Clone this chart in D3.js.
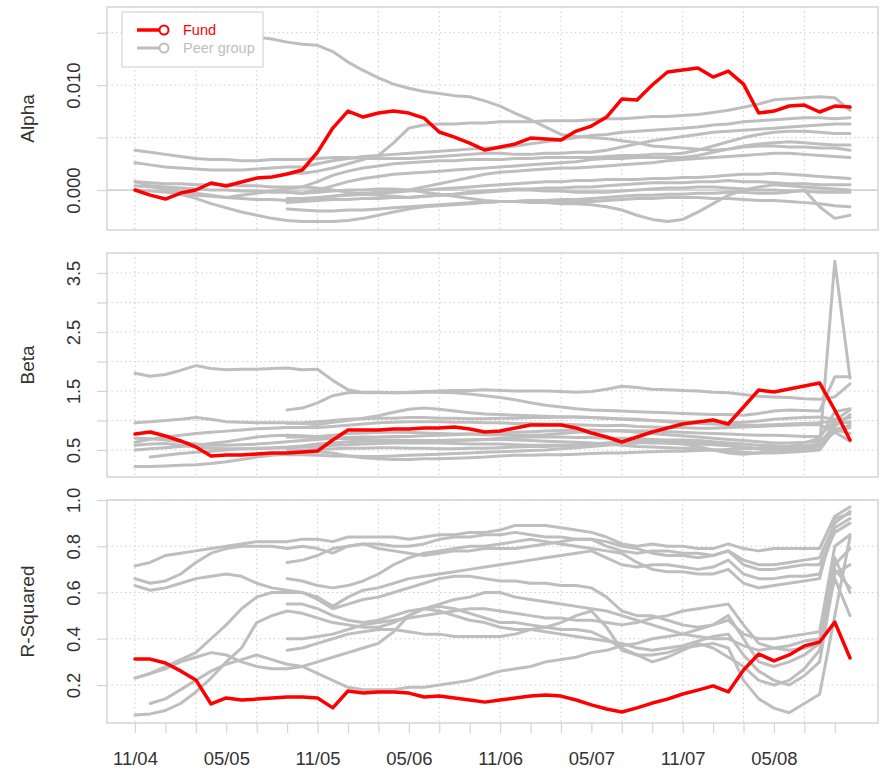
<!DOCTYPE html>
<html>
<head>
<meta charset="utf-8">
<script src="https://cdn.jsdelivr.net/npm/d3@7"></script>
<style>
  body { margin: 0; background: #fff; }
  svg text { font-family: "Liberation Sans", Arial, Helvetica, sans-serif; }
</style>
</head>
<body>
<svg id="chart" width="886" height="771"></svg>
<script>
// Monthly observation dates, Nov 2004 .. Oct 2008
const months = d3.timeMonth.range(new Date(2004, 10, 1), new Date(2008, 10, 1));
const tickLabels = ["11/04", "05/05", "11/05", "05/06", "11/06", "05/07", "11/07", "05/08"];

// Peers that only have history from 09/05 onwards
const lateStart = vals => Array(months.length - vals.length).fill(null).concat(vals);

// ---------------- Rolling alpha ----------------
const fundAlpha = [0,-0.48e-3,-0.86e-3,-0.29e-3,0,0.67e-3,0.38e-3,0.76e-3,1.14e-3,1.24e-3,1.53e-3,1.91e-3,3.62e-3,5.91e-3,7.53e-3,6.96e-3,7.34e-3,7.53e-3,7.34e-3,6.86e-3,5.53e-3,5.05e-3,4.48e-3,3.81e-3,4.10e-3,4.39e-3,4.96e-3,4.86e-3,4.77e-3,5.62e-3,6.10e-3,6.96e-3,8.67e-3,8.58e-3,10.01e-3,11.25e-3,11.44e-3,11.63e-3,10.77e-3,11.34e-3,10.10e-3,7.34e-3,7.53e-3,8.01e-3,8.10e-3,7.44e-3,8.01e-3,7.91e-3];

const peerAlpha = [
  [15.3e-3,15.2e-3,15.1e-3,15.0e-3,15.0e-3,14.9e-3,14.8e-3,14.7e-3,14.6e-3,14.4e-3,14.1e-3,13.9e-3,13.8e-3,13.2e-3,12.2e-3,11.4e-3,10.7e-3,10.1e-3,9.7e-3,9.4e-3,9.2e-3,9.0e-3,8.9e-3,8.5e-3,8.0e-3,7.3e-3,6.7e-3,6.0e-3,5.3e-3,5.1e-3,5.0e-3,4.9e-3,4.7e-3,4.5e-3,4.2e-3,4.1e-3,4.0e-3,3.9e-3,3.8e-3,3.9e-3,4.1e-3,4.2e-3,4.2e-3,4.1e-3,4.1e-3,4.0e-3,4.0e-3,3.8e-3],
  [2.6e-3,2.4e-3,2.2e-3,2.1e-3,2.0e-3,1.9e-3,1.9e-3,1.9e-3,2.0e-3,2.1e-3,2.2e-3,2.2e-3,2.5e-3,2.8e-3,3.0e-3,3.2e-3,3.3e-3,3.4e-3,3.5e-3,3.6e-3,3.7e-3,3.8e-3,3.9e-3,4.0e-3,4.0e-3,4.2e-3,4.4e-3,4.6e-3,4.8e-3,5.0e-3,5.2e-3,5.3e-3,5.5e-3,5.6e-3,5.7e-3,5.8e-3,5.9e-3,6.0e-3,6.2e-3,6.3e-3,6.5e-3,6.6e-3,6.7e-3,6.8e-3,6.9e-3,6.9e-3,6.8e-3,6.9e-3],
  [3.8e-3,3.6e-3,3.4e-3,3.2e-3,3.0e-3,2.9e-3,2.9e-3,2.8e-3,2.8e-3,2.9e-3,2.9e-3,2.9e-3,3.0e-3,3.1e-3,3.1e-3,3.0e-3,3.0e-3,3.0e-3,3.0e-3,3.1e-3,3.2e-3,3.3e-3,3.4e-3,3.5e-3,3.5e-3,3.4e-3,3.4e-3,3.5e-3,3.5e-3,3.6e-3,3.6e-3,3.8e-3,4.1e-3,4.4e-3,4.7e-3,4.9e-3,5.1e-3,5.3e-3,5.5e-3,5.6e-3,5.7e-3,5.8e-3,5.9e-3,6.0e-3,6.1e-3,6.2e-3,6.3e-3,6.3e-3],
  [0.8e-3,0.7e-3,0.6e-3,0.6e-3,0.5e-3,0.5e-3,0.5e-3,0.4e-3,0.4e-3,0.3e-3,0.3e-3,0.3e-3,0.8e-3,1.4e-3,1.8e-3,2.1e-3,2.3e-3,2.5e-3,2.6e-3,2.7e-3,2.8e-3,2.8e-3,2.9e-3,2.9e-3,2.9e-3,3.0e-3,3.0e-3,3.1e-3,3.1e-3,3.1e-3,3.1e-3,3.2e-3,3.3e-3,3.3e-3,3.4e-3,3.4e-3,3.5e-3,3.8e-3,4.2e-3,4.6e-3,5.0e-3,5.3e-3,5.5e-3,5.6e-3,5.6e-3,5.5e-3,5.4e-3,5.4e-3],
  [0,-0.1e-3,-0.2e-3,-0.4e-3,-0.5e-3,-0.6e-3,-0.7e-3,-0.8e-3,-0.9e-3,-0.9e-3,-1.0e-3,-1.0e-3,-0.8e-3,-0.6e-3,-0.4e-3,-0.3e-3,-0.2e-3,-0.1e-3,0,0.3e-3,0.6e-3,0.9e-3,1.2e-3,1.5e-3,1.7e-3,1.8e-3,1.9e-3,2.0e-3,2.1e-3,2.1e-3,2.2e-3,2.3e-3,2.4e-3,2.5e-3,2.6e-3,2.8e-3,2.9e-3,3.0e-3,3.1e-3,3.2e-3,3.3e-3,3.4e-3,3.5e-3,3.5e-3,3.4e-3,3.3e-3,3.2e-3,3.1e-3],
  [0.4e-3,0.3e-3,0.1e-3,-0.1e-3,-0.3e-3,-0.5e-3,-0.7e-3,-0.5e-3,-0.3e-3,-0.1e-3,0.1e-3,0.3e-3,0.2e-3,0,-0.2e-3,-0.4e-3,-0.5e-3,-0.6e-3,-0.7e-3,-0.6e-3,-0.5e-3,-0.4e-3,-0.2e-3,-0.1e-3,0,0.1e-3,0.1e-3,0.2e-3,0.2e-3,0.3e-3,0.3e-3,0.4e-3,0.5e-3,0.6e-3,0.7e-3,0.7e-3,0.7e-3,0.8e-3,0.8e-3,0.9e-3,0.8e-3,0.8e-3,0.7e-3,0.6e-3,0.6e-3,0.5e-3,0.5e-3,0.5e-3],
  [0.8e-3,0.4e-3,0,-0.4e-3,-0.8e-3,-1.3e-3,-1.7e-3,-2.1e-3,-2.4e-3,-2.7e-3,-2.9e-3,-3.0e-3,-3.0e-3,-3.0e-3,-2.9e-3,-2.7e-3,-2.4e-3,-2.1e-3,-1.8e-3,-1.6e-3,-1.5e-3,-1.4e-3,-1.3e-3,-1.2e-3,-1.1e-3,-1.1e-3,-1.0e-3,-1.0e-3,-1.1e-3,-1.1e-3,-1.1e-3,-1.0e-3,-0.9e-3,-0.8e-3,-0.8e-3,-0.7e-3,-0.7e-3,-0.7e-3,-0.8e-3,-0.8e-3,-0.9e-3,-1.0e-3,-1.0e-3,-1.1e-3,-1.2e-3,-1.3e-3,-1.5e-3,-1.6e-3],
  [null,0.4e-3,0.3e-3,0.2e-3,0.1e-3,0,0,-0.1e-3,-0.1e-3,-0.2e-3,-0.2e-3,-0.3e-3,-0.2e-3,-0.1e-3,0,0,0.1e-3,0.1e-3,0,-0.2e-3,-0.4e-3,-0.6e-3,-0.8e-3,-1.0e-3,-1.1e-3,-1.1e-3,-1.0e-3,-1.0e-3,-0.9e-3,-0.9e-3,-0.8e-3,-0.7e-3,-0.6e-3,-0.5e-3,-0.5e-3,-0.4e-3,-0.4e-3,-0.3e-3,-0.3e-3,-0.2e-3,-0.2e-3,-0.3e-3,-0.3e-3,-0.2e-3,0,-1.6e-3,-2.7e-3,-2.4e-3],
  lateStart([1.6e-3,1.6e-3,1.8e-3,2.1e-3,2.5e-3,2.9e-3,3.3e-3,4.5e-3,5.9e-3,6.2e-3,6.3e-3,6.3e-3,6.4e-3,6.4e-3,6.5e-3,6.5e-3,6.5e-3,6.6e-3,6.6e-3,6.6e-3,6.7e-3,6.8e-3,6.8e-3,6.9e-3,7.0e-3,7.0e-3,7.1e-3,7.2e-3,7.4e-3,7.6e-3,7.9e-3,8.2e-3,8.6e-3,8.7e-3,8.8e-3,8.9e-3,8.8e-3,7.6e-3]),
  lateStart([-0.2e-3,-0.3e-3,0,0.4e-3,0.8e-3,1.1e-3,1.3e-3,1.5e-3,1.6e-3,1.7e-3,1.8e-3,1.9e-3,2.0e-3,2.1e-3,2.2e-3,2.3e-3,2.4e-3,2.5e-3,2.6e-3,2.7e-3,2.9e-3,3.0e-3,3.0e-3,3.1e-3,3.1e-3,3.1e-3,3.1e-3,3.3e-3,3.6e-3,3.9e-3,4.2e-3,4.4e-3,4.5e-3,4.6e-3,4.5e-3,4.4e-3,4.3e-3,4.3e-3]),
  lateStart([-0.8e-3,-0.8e-3,-0.7e-3,-0.6e-3,-0.5e-3,-0.4e-3,-0.3e-3,-0.2e-3,-0.1e-3,0,0.1e-3,0.2e-3,0.3e-3,0.4e-3,0.5e-3,0.6e-3,0.7e-3,0.8e-3,0.8e-3,0.9e-3,0.9e-3,1.0e-3,1.0e-3,1.0e-3,1.1e-3,1.1e-3,1.2e-3,1.2e-3,1.3e-3,1.4e-3,1.5e-3,1.5e-3,1.6e-3,1.5e-3,1.4e-3,1.3e-3,1.2e-3,1.1e-3]),
  lateStart([-1.2e-3,-1.1e-3,-1.0e-3,-0.9e-3,-0.9e-3,-0.8e-3,-0.8e-3,-0.7e-3,-0.7e-3,-0.6e-3,-0.5e-3,-0.4e-3,-0.3e-3,-0.2e-3,-0.1e-3,0,0,-0.1e-3,-0.1e-3,-0.2e-3,-0.2e-3,-0.2e-3,-0.1e-3,0,0.1e-3,0.2e-3,0.2e-3,0.3e-3,0.3e-3,0.2e-3,0.1e-3,0,0,-0.1e-3,-0.1e-3,-0.2e-3,-0.2e-3,-0.2e-3]),
  lateStart([-1.8e-3,-1.9e-3,-2.0e-3,-2.0e-3,-1.9e-3,-1.9e-3,-1.8e-3,-1.7e-3,-1.6e-3,-1.5e-3,-1.4e-3,-1.3e-3,-1.2e-3,-1.2e-3,-1.1e-3,-1.1e-3,-1.2e-3,-1.2e-3,-1.3e-3,-1.3e-3,-1.4e-3,-1.6e-3,-1.9e-3,-2.4e-3,-2.8e-3,-3.0e-3,-2.8e-3,-2.1e-3,-1.3e-3,-0.5e-3,0,0.3e-3,0.5e-3,0.4e-3,0.3e-3,0.2e-3,0.1e-3,0])
];

// ---------------- Rolling beta ----------------
const fundBeta = [0.771,0.805,0.737,0.653,0.551,0.398,0.415,0.415,0.432,0.449,0.449,0.466,0.483,0.669,0.839,0.839,0.839,0.856,0.856,0.873,0.873,0.890,0.856,0.805,0.822,0.873,0.924,0.924,0.924,0.873,0.788,0.720,0.636,0.720,0.805,0.873,0.941,0.975,1.008,0.941,1.229,1.517,1.483,1.534,1.585,1.636,1.178,0.669];

const peerBeta = [
  [1.80,1.75,1.78,1.85,1.93,1.88,1.86,1.87,1.87,1.88,1.89,1.86,1.87,1.68,1.52,1.47,1.47,1.47,1.48,1.49,1.50,1.51,1.51,1.52,1.51,1.50,1.50,1.50,1.49,1.48,1.49,1.53,1.58,1.56,1.53,1.52,1.51,1.50,1.48,1.47,1.44,1.41,1.40,1.39,1.37,1.36,1.40,1.62],
  [0.96,0.98,1.00,1.02,1.05,1.02,0.98,0.97,0.96,0.96,0.96,0.95,0.93,0.97,1.00,1.04,1.08,1.14,1.19,1.21,1.19,1.16,1.13,1.11,1.10,1.09,1.08,1.07,1.06,1.06,1.05,1.04,1.02,1.01,1.00,0.99,0.98,0.98,0.97,0.96,0.97,0.99,1.02,1.04,1.05,1.06,1.02,0.95],
  [0.63,0.68,0.72,0.75,0.78,0.80,0.82,0.84,0.86,0.87,0.88,0.88,0.88,0.90,0.92,0.94,0.96,0.97,0.98,0.98,0.98,0.97,0.97,0.96,0.96,0.95,0.95,0.94,0.94,0.93,0.92,0.91,0.92,0.90,0.89,0.88,0.88,0.87,0.87,0.88,0.89,0.90,0.91,0.92,0.93,0.93,0.80,0.65],
  [0.50,0.52,0.54,0.56,0.58,0.61,0.64,0.68,0.72,0.74,0.75,0.74,0.73,0.75,0.78,0.79,0.80,0.80,0.80,0.79,0.78,0.77,0.77,0.76,0.76,0.75,0.75,0.76,0.78,0.80,0.81,0.82,0.83,0.82,0.82,0.81,0.80,0.79,0.78,0.77,0.76,0.75,0.75,0.74,0.73,0.73,1.00,1.18],
  [null,0.38,0.41,0.44,0.46,0.48,0.50,0.52,0.53,0.54,0.55,0.57,0.60,0.62,0.64,0.65,0.66,0.66,0.66,0.65,0.65,0.66,0.67,0.68,0.70,0.71,0.72,0.72,0.72,0.71,0.71,0.70,0.70,0.69,0.68,0.67,0.67,0.66,0.64,0.62,0.60,0.58,0.57,0.56,0.56,0.56,0.90,1.10],
  [0.22,0.22,0.23,0.24,0.25,0.27,0.30,0.34,0.38,0.41,0.43,0.45,0.47,0.45,0.40,0.37,0.35,0.34,0.34,0.35,0.35,0.36,0.37,0.38,0.40,0.41,0.41,0.42,0.42,0.43,0.44,0.45,0.45,0.46,0.47,0.48,0.48,0.49,0.50,0.51,0.52,0.53,0.54,0.55,0.57,0.60,0.80,0.88],
  [0.58,0.60,0.61,0.58,0.55,0.53,0.52,0.52,0.52,0.53,0.54,0.55,0.56,0.58,0.59,0.60,0.61,0.62,0.62,0.62,0.62,0.61,0.60,0.60,0.60,0.59,0.58,0.58,0.58,0.59,0.60,0.61,0.62,0.63,0.62,0.62,0.61,0.60,0.59,0.57,0.54,0.52,0.50,0.50,0.52,0.55,3.70,1.72],
  [0.70,0.69,0.67,0.64,0.60,0.58,0.58,0.59,0.60,0.62,0.64,0.66,0.68,0.70,0.71,0.72,0.72,0.73,0.73,0.74,0.75,0.76,0.77,0.78,0.79,0.80,0.81,0.82,0.83,0.84,0.84,0.83,0.82,0.80,0.78,0.76,0.74,0.72,0.70,0.68,0.66,0.64,0.62,0.62,0.63,0.65,0.85,0.78],
  lateStart([1.18,1.21,1.30,1.42,1.47,1.48,1.48,1.47,1.47,1.48,1.48,1.47,1.45,1.42,1.39,1.35,1.30,1.26,1.23,1.20,1.18,1.17,1.16,1.15,1.14,1.13,1.12,1.11,1.10,1.10,1.09,1.12,1.16,1.18,1.17,1.16,1.74,1.74]),
  lateStart([0.95,0.96,0.98,1.00,1.02,1.03,1.04,1.04,1.05,1.05,1.04,1.04,1.03,1.03,1.04,1.04,1.05,1.05,1.06,1.06,1.05,1.04,1.03,1.02,1.00,0.98,0.96,0.95,0.94,0.93,0.92,0.92,0.93,0.94,0.95,0.96,1.00,1.05]),
  lateStart([0.72,0.72,0.71,0.70,0.69,0.68,0.67,0.67,0.66,0.66,0.66,0.67,0.67,0.68,0.68,0.67,0.66,0.65,0.64,0.63,0.62,0.60,0.58,0.56,0.55,0.54,0.53,0.52,0.50,0.48,0.46,0.45,0.45,0.46,0.48,0.50,0.85,0.92]),
  lateStart([0.50,0.50,0.51,0.52,0.53,0.53,0.54,0.54,0.53,0.53,0.52,0.52,0.53,0.53,0.54,0.55,0.56,0.56,0.57,0.58,0.60,0.62,0.64,0.66,0.66,0.65,0.64,0.62,0.60,0.58,0.55,0.52,0.50,0.52,0.55,0.58,0.95,0.98]),
  lateStart([0.42,0.42,0.41,0.40,0.40,0.39,0.39,0.40,0.41,0.42,0.43,0.44,0.45,0.46,0.47,0.48,0.49,0.50,0.52,0.54,0.56,0.58,0.60,0.62,0.63,0.62,0.60,0.56,0.50,0.45,0.43,0.45,0.50,0.56,0.62,0.70,1.15,1.20])
];

// ---------------- Rolling R-squared ----------------
const fundRSquared = [0.312,0.312,0.295,0.261,0.222,0.118,0.144,0.135,0.139,0.144,0.148,0.148,0.144,0.101,0.174,0.165,0.170,0.170,0.165,0.148,0.152,0.144,0.135,0.126,0.135,0.144,0.152,0.157,0.152,0.135,0.114,0.096,0.083,0.101,0.122,0.139,0.161,0.178,0.196,0.170,0.265,0.334,0.304,0.330,0.369,0.386,0.472,0.317];

const peerRSquared = [
  [0.715,0.73,0.76,0.77,0.78,0.79,0.80,0.81,0.82,0.82,0.82,0.83,0.83,0.82,0.84,0.84,0.84,0.84,0.83,0.84,0.85,0.85,0.86,0.86,0.87,0.89,0.89,0.89,0.88,0.87,0.86,0.84,0.81,0.80,0.81,0.80,0.80,0.79,0.79,0.81,0.79,0.78,0.79,0.79,0.79,0.79,0.93,0.97],
  [0.66,0.64,0.65,0.68,0.73,0.77,0.79,0.80,0.80,0.80,0.79,0.80,0.79,0.77,0.80,0.81,0.81,0.80,0.80,0.81,0.83,0.84,0.84,0.85,0.85,0.86,0.85,0.84,0.84,0.83,0.83,0.82,0.80,0.79,0.77,0.76,0.76,0.75,0.76,0.78,0.74,0.72,0.72,0.73,0.74,0.75,0.90,0.95],
  [0.63,0.61,0.62,0.64,0.66,0.67,0.68,0.67,0.64,0.62,0.61,0.60,0.58,0.54,0.58,0.61,0.62,0.64,0.66,0.67,0.68,0.69,0.70,0.71,0.72,0.73,0.74,0.75,0.76,0.77,0.78,0.75,0.72,0.71,0.72,0.72,0.71,0.70,0.71,0.74,0.68,0.66,0.66,0.67,0.67,0.68,0.88,0.92],
  [0.23,0.25,0.28,0.31,0.34,0.40,0.46,0.53,0.58,0.60,0.60,0.60,0.57,0.53,0.55,0.57,0.58,0.60,0.62,0.64,0.66,0.67,0.67,0.66,0.65,0.65,0.64,0.64,0.63,0.63,0.62,0.58,0.52,0.50,0.50,0.48,0.46,0.45,0.46,0.48,0.42,0.40,0.40,0.41,0.42,0.43,0.80,0.85],
  [0.07,0.075,0.09,0.12,0.17,0.23,0.30,0.36,0.47,0.50,0.52,0.51,0.49,0.47,0.46,0.45,0.45,0.47,0.50,0.53,0.55,0.57,0.58,0.60,0.60,0.58,0.57,0.56,0.55,0.54,0.53,0.52,0.50,0.48,0.46,0.44,0.42,0.41,0.40,0.40,0.37,0.35,0.36,0.37,0.39,0.40,0.72,0.79],
  [null,0.12,0.14,0.18,0.22,0.26,0.29,0.31,0.33,0.31,0.29,0.28,0.25,0.22,0.19,0.18,0.18,0.18,0.19,0.19,0.20,0.21,0.22,0.24,0.26,0.27,0.28,0.30,0.31,0.32,0.34,0.35,0.37,0.38,0.40,0.41,0.42,0.44,0.46,0.50,0.40,0.30,0.28,0.30,0.33,0.38,0.75,0.60],
  [0.23,0.25,0.27,0.30,0.32,0.34,0.33,0.30,0.28,0.27,0.27,0.28,0.30,0.32,0.34,0.36,0.38,0.43,0.50,0.53,0.54,0.53,0.51,0.49,0.47,0.47,0.46,0.45,0.44,0.44,0.43,0.40,0.36,0.33,0.30,0.32,0.35,0.38,0.36,0.32,0.28,0.22,0.20,0.22,0.27,0.35,0.70,0.62],
  lateStart([0.73,0.74,0.76,0.79,0.80,0.81,0.79,0.78,0.77,0.76,0.77,0.78,0.78,0.79,0.79,0.79,0.80,0.81,0.82,0.83,0.83,0.80,0.78,0.77,0.78,0.78,0.77,0.77,0.76,0.78,0.72,0.70,0.70,0.71,0.72,0.72,0.86,0.90]),
  lateStart([0.40,0.40,0.41,0.42,0.44,0.46,0.47,0.48,0.49,0.50,0.51,0.52,0.53,0.53,0.52,0.51,0.50,0.49,0.49,0.48,0.48,0.47,0.46,0.47,0.49,0.50,0.52,0.53,0.54,0.55,0.46,0.38,0.36,0.35,0.36,0.38,0.66,0.50]),
  lateStart([0.66,0.65,0.63,0.62,0.63,0.65,0.68,0.72,0.75,0.77,0.78,0.79,0.80,0.80,0.81,0.82,0.83,0.82,0.81,0.80,0.79,0.78,0.77,0.73,0.70,0.69,0.69,0.68,0.68,0.70,0.64,0.62,0.63,0.64,0.65,0.66,0.92,0.94]),
  lateStart([0.35,0.36,0.38,0.40,0.42,0.43,0.44,0.44,0.43,0.42,0.42,0.41,0.41,0.41,0.41,0.42,0.44,0.45,0.47,0.50,0.52,0.45,0.35,0.33,0.33,0.34,0.36,0.37,0.38,0.36,0.22,0.14,0.10,0.08,0.12,0.16,0.50,0.84]),
  lateStart([0.55,0.55,0.53,0.50,0.48,0.47,0.48,0.50,0.52,0.53,0.52,0.50,0.48,0.47,0.45,0.44,0.44,0.43,0.42,0.41,0.40,0.39,0.38,0.36,0.35,0.36,0.37,0.39,0.41,0.42,0.33,0.26,0.22,0.20,0.24,0.30,0.68,0.72])
];

// ---------------- Layout & styling ----------------
const svg = d3.select("#chart");
const plotLeft = 107, plotRight = 878;
const fundColor = "#ff0000", peerColor = "#bebebe";
const frameColor = "#d4d4d4", gridColor = "#cfcfcf", textColor = "#333";
const fmtMonth = d3.timeFormat("%m/%y");

const x = d3.scaleLinear().domain([-1.84, months.length - 1 + 1.84]).range([plotLeft, plotRight]);
const labelIdx = tickLabels.map(l => months.findIndex(m => fmtMonth(m) === l));
const minorIdx = d3.range(0, months.length, 2);
const gridIdx = d3.range(0, months.length, 4);

const panels = [
  { title: "Alpha", fund: fundAlpha, peers: peerAlpha, top: 7, bottom: 230,
    domain: [-0.00381, 0.01745], ticks: [0, 0.005, 0.010, 0.015], labelled: [0, 0.010],
    fmt: d3.format(".3f"), zeroLine: true },
  { title: "Beta", fund: fundBeta, peers: peerBeta, top: 253, bottom: 477,
    domain: [0.0424, 3.839], ticks: [0.5, 1, 1.5, 2, 2.5, 3, 3.5], labelled: [0.5, 1.5, 2.5, 3.5],
    fmt: d3.format(".1f") },
  { title: "R-Squared", fund: fundRSquared, peers: peerRSquared, top: 500, bottom: 723,
    domain: [0.0357, 1.0], ticks: [0.2, 0.4, 0.6, 0.8, 1.0], labelled: [0.2, 0.4, 0.6, 0.8, 1.0],
    fmt: d3.format(".1f"), xAxis: true }
];

panels.forEach(p => {
  const y = d3.scaleLinear().domain(p.domain).range([p.bottom, p.top]);
  const g = svg.append("g");

  // dotted grid
  g.selectAll(".hgrid").data(p.ticks).join("line")
    .attr("x1", plotLeft).attr("x2", plotRight)
    .attr("y1", d => y(d)).attr("y2", d => y(d))
    .attr("stroke", gridColor).attr("stroke-width", 1).attr("stroke-dasharray", "1.5,3");
  g.selectAll(".vgrid").data(gridIdx).join("line")
    .attr("x1", d => x(d)).attr("x2", d => x(d))
    .attr("y1", p.top).attr("y2", p.bottom)
    .attr("stroke", gridColor).attr("stroke-width", 1).attr("stroke-dasharray", "1.5,3");

  if (p.zeroLine) {
    g.append("line").attr("x1", plotLeft).attr("x2", plotRight)
      .attr("y1", y(0)).attr("y2", y(0))
      .attr("stroke", "#c4c4c4").attr("stroke-width", 1.2);
  }

  // frame
  g.append("rect").attr("x", plotLeft).attr("y", p.top)
    .attr("width", plotRight - plotLeft).attr("height", p.bottom - p.top)
    .attr("fill", "none").attr("stroke", frameColor).attr("stroke-width", 1.5);

  // y axis
  const yAxis = g.append("g").attr("transform", `translate(${plotLeft},0)`)
    .call(d3.axisLeft(y).tickValues(p.ticks).tickSize(10).tickPadding(0)
      .tickFormat(d => p.labelled.some(v => Math.abs(v - d) < 1e-9) ? p.fmt(d) : ""));
  yAxis.select(".domain").remove();
  yAxis.selectAll(".tick line").attr("stroke", frameColor).attr("stroke-width", 1.2);
  yAxis.selectAll(".tick text")
    .attr("transform", "rotate(-90)")
    .attr("x", 0).attr("y", -27).attr("dy", 0)
    .attr("text-anchor", "middle")
    .attr("fill", textColor).style("font-size", "18.5px");

  // axis title
  g.append("text")
    .attr("transform", `translate(34,${(p.top + p.bottom) / 2}) rotate(-90)`)
    .attr("text-anchor", "middle")
    .attr("fill", textColor).style("font-size", "19px")
    .text(p.title);

  // series
  const line = d3.line().defined(d => d != null).x((d, i) => x(i)).y(d => y(d));
  g.selectAll(".peer").data(p.peers).join("path")
    .attr("d", line).attr("fill", "none")
    .attr("stroke", peerColor).attr("stroke-width", 3)
    .attr("stroke-linejoin", "round").attr("stroke-linecap", "round");
  g.append("path").datum(p.fund)
    .attr("d", line).attr("fill", "none")
    .attr("stroke", fundColor).attr("stroke-width", 3.5)
    .attr("stroke-linejoin", "round").attr("stroke-linecap", "round");

  if (p.xAxis) {
    const xAxis = g.append("g").attr("transform", `translate(0,${p.bottom})`)
      .call(d3.axisBottom(x).tickValues(minorIdx).tickSize(10)
        .tickFormat(d => { const k = labelIdx.indexOf(d); return k >= 0 ? tickLabels[k] : ""; }));
    xAxis.select(".domain").remove();
    xAxis.selectAll(".tick line").attr("stroke", frameColor).attr("stroke-width", 1.2);
    xAxis.selectAll(".tick text")
      .attr("y", 42).attr("dy", 0)
      .attr("fill", textColor).style("font-size", "18.5px");
  }
});

// legend
const legend = svg.append("g");
legend.append("rect").attr("x", 122).attr("y", 12).attr("width", 141).attr("height", 55)
  .attr("fill", "#fff").attr("stroke", frameColor).attr("stroke-width", 1.2);
const legendItems = [
  { label: "Fund", color: fundColor, width: 3.5 },
  { label: "Peer group", color: peerColor, width: 3 }
];
legendItems.forEach((it, i) => {
  const cy = 30 + i * 18;
  legend.append("line").attr("x1", 137).attr("x2", 160).attr("y1", cy).attr("y2", cy)
    .attr("stroke", it.color).attr("stroke-width", it.width);
  legend.append("circle").attr("cx", 164).attr("cy", cy).attr("r", 4.5)
    .attr("fill", "#fff").attr("stroke", it.color).attr("stroke-width", 2);
  legend.append("text").attr("x", 183).attr("y", cy + 5)
    .attr("fill", it.color).style("font-size", "14.5px").text(it.label);
});
</script>
</body>
</html>
